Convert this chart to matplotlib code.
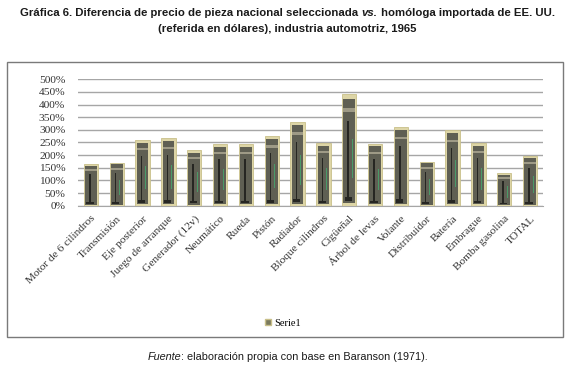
import matplotlib
matplotlib.use("Agg")
import matplotlib.pyplot as plt
from matplotlib.patches import Rectangle, Patch
from matplotlib.ticker import PercentFormatter
import numpy as np

categorias = ["Motor de 6 cilindros", "Transmisión", "Eje posterior", "Juego de arranque",
              "Generador (12v)", "Neumático", "Rueda", "Pistón", "Radiador",
              "Bloque cilindros", "Cigüeñal", "Árbol de levas", "Volante", "Distribuidor",
              "Batería", "Embrague", "Bomba gasolina", "TOTAL"]
valores = [164, 170, 260, 266, 219, 243, 243, 274, 332,
           247, 440, 244, 312, 174, 299, 247, 128, 198]
yticks = [0, 50, 100, 150, 200, 250, 300, 350, 400, 450, 500]
serie = "Serie1"

W, H = 575, 370
fig = plt.figure(figsize=(W / 100, H / 100), dpi=100)
fig.patch.set_facecolor("white")

serif = ["Liberation Serif", "DejaVu Serif"]
sans = ["Liberation Sans", "DejaVu Sans"]

# chart frame
fig.patches.append(Rectangle((7 / W, 1 - 337 / H), 556 / W, 275 / H,
                             transform=fig.transFigure, fill=False,
                             edgecolor="#7a7a7a", linewidth=1.0))

ax = fig.add_axes([78 / W, 1 - 205.7 / H, 465 / W, 126.4 / H])
x = np.arange(len(categorias))
vals = np.array(valores)

# "dollar bill" bars: cream rim, olive body, dark central line, green stripe
ax.bar(x, vals, width=0.56, color="#ddd5a6", edgecolor="#c9c08a", linewidth=0.6, zorder=3)
ax.bar(x, vals * 0.94, bottom=vals * 0.02, width=0.45, color="#5f5f53", zorder=4)
ax.bar(x, vals * 0.035, bottom=vals * 0.84, width=0.45, color="#9e9a86", zorder=5)
ax.bar(x - 0.04, vals * 0.70, bottom=vals * 0.06, width=0.06, color="#262622", zorder=6)
ax.bar(x + 0.12, vals * 0.35, bottom=vals * 0.25, width=0.03, color="#4a9a68", zorder=6)
ax.bar(x - 0.04, vals * 0.04, bottom=vals * 0.04, width=0.28, color="#262622", zorder=6)

ax.set_xlim(-0.5, len(categorias) - 0.5)
ax.set_ylim(0, 500)
ax.set_yticks(yticks)
ax.yaxis.set_major_formatter(PercentFormatter(decimals=0))
ax.grid(axis="y", color="#a6a6a6", linewidth=1.0, zorder=0)
ax.set_axisbelow(True)
for s in ["top", "right", "left"]:
    ax.spines[s].set_visible(False)
ax.spines["bottom"].set_color("#a6a6a6")
ax.tick_params(length=0)
ax.tick_params(axis="y", pad=9)
ax.set_xticks(x)
ax.set_xticklabels(categorias, rotation=45, ha="right", rotation_mode="anchor")
for lab in ax.get_yticklabels() + ax.get_xticklabels():
    lab.set_family(serif)
    lab.set_fontsize(8.2)
    lab.set_color("#333333")
ax.tick_params(axis="x", pad=6)

fig.legend(handles=[Patch(facecolor="#7a7a5e", edgecolor="#c9c08a")], labels=[serie],
           loc="center", bbox_to_anchor=(283 / W, 1 - 323 / H), frameon=False,
           prop={"family": serif, "size": 7.5}, handlelength=0.6, handleheight=0.6,
           handletextpad=0.3)


def linea(y, piezas, size, weight):
    # piezas: list of (text, style); centred as one line
    texts = [fig.text(0, y, t, fontsize=size, fontweight=weight, style=st,
                      family=sans, va="center", ha="left", color="#1a1a1a")
             for t, st in piezas]
    fig.canvas.draw()
    r = fig.canvas.get_renderer()
    widths = [t.get_window_extent(r).width / W for t in texts]
    x0 = 0.5 - sum(widths) / 2
    for t, w in zip(texts, widths):
        t.set_x(x0)
        x0 += w


linea(1 - 13 / H, [("Gráfica 6. Diferencia de precio de pieza nacional seleccionada ", "normal"),
                   ("vs.", "italic"),
                   (" homóloga importada de EE. UU.", "normal")], 8.2, "bold")
linea(1 - 29 / H, [("(referida en dólares), industria automotriz, 1965", "normal")], 8.2, "bold")
linea(1 - 357 / H, [("Fuente", "italic"),
                    (": elaboración propia con base en Baranson (1971).", "normal")], 7.8, "normal")

fig.savefig("out.png", dpi=100, facecolor="white")
